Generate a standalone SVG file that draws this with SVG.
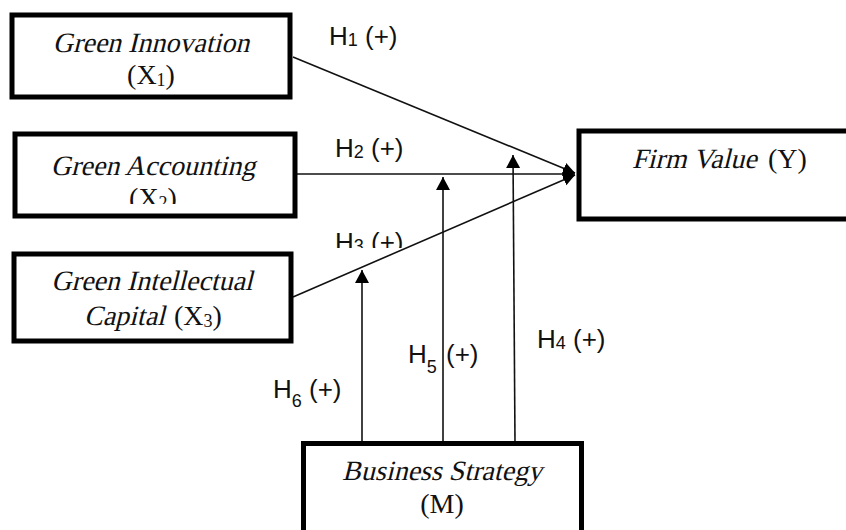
<svg xmlns="http://www.w3.org/2000/svg" width="846" height="530" viewBox="0 0 846 530">
<style>
.box{fill:#fff;stroke:#000;stroke-width:5}
.t{font-family:"Liberation Serif","Times New Roman",serif;font-size:28px;fill:#111;text-anchor:middle}
.st{text-anchor:start}
.s{font-size:18px}
.h{font-family:"Liberation Sans",Arial,sans-serif;font-size:26px;fill:#111}
.hs{font-size:18px}
.ln{stroke:#111;stroke-width:1.6;fill:none}
</style>
<defs>
<marker id="up" markerUnits="userSpaceOnUse" markerWidth="14" markerHeight="14" viewBox="0 0 14 14" refX="13" refY="7" orient="auto">
<path d="M0,0 L13,7 L0,14 Z" fill="#000"/>
</marker>
<marker id="tip" markerUnits="userSpaceOnUse" markerWidth="12" markerHeight="14" viewBox="0 0 12 14" refX="12" refY="7" orient="auto">
<path d="M0,1 L12,7 L0,13 Z" fill="#000"/>
</marker>
<clipPath id="c2"><rect x="0" y="0" width="846" height="204"/></clipPath>
<clipPath id="c3"><rect x="0" y="0" width="846" height="248"/></clipPath>
</defs>

<g id="connectors">
<line class="ln" x1="293" y1="57" x2="575" y2="173" marker-end="url(#tip)"/>
<line class="ln" x1="297" y1="174" x2="575" y2="174" marker-end="url(#tip)"/>
<line class="ln" x1="293" y1="297" x2="575" y2="175" marker-end="url(#tip)"/>
<line class="ln" x1="362" y1="442" x2="362" y2="270" marker-end="url(#up)"/>
<line class="ln" x1="443" y1="442" x2="443" y2="177" marker-end="url(#up)"/>
<line class="ln" x1="515" y1="442" x2="513" y2="155" marker-end="url(#up)"/>
</g>

<g id="labels">
<text class="h" x="329" y="45">H<tspan class="hs" dy="1">1</tspan><tspan dy="-1"> (+)</tspan></text>
<text class="h" x="335" y="157">H<tspan class="hs" dy="1">2</tspan><tspan dy="-1"> (+)</tspan></text>
<g clip-path="url(#c3)"><text class="h" x="335" y="251">H<tspan class="hs" dy="1">3</tspan><tspan dy="-1"> (+)</tspan></text></g>
<text class="h" x="537" y="348">H<tspan class="hs" dy="1">4</tspan><tspan dy="-1"> (+)</tspan></text>
<text class="h" x="408" y="363">H<tspan class="hs" dy="10">5</tspan><tspan dy="-10" x="446">(+)</tspan></text>
<text class="h" x="273" y="398">H<tspan class="hs" dy="9">6</tspan><tspan dy="-9"> (+)</tspan></text>
</g>

<g id="x1">
<rect class="box" x="12" y="15" width="278" height="82"/>
<text class="t" transform="translate(151,52) skewX(-14)">Green Innovation</text>
<text class="t" x="151" y="84">(X<tspan class="s" dy="2">1</tspan><tspan dy="-2">)</tspan></text>
</g>

<g id="x2">
<rect class="box" x="15" y="134" width="280" height="82"/>
<text class="t" transform="translate(153,175) skewX(-14)">Green Accounting</text>
<g clip-path="url(#c2)"><text class="t" x="153" y="207">(X<tspan class="s" dy="2">2</tspan><tspan dy="-2">)</tspan></text></g>
</g>

<g id="x3">
<rect class="box" x="14" y="254" width="277" height="87"/>
<text class="t" transform="translate(152,290) skewX(-14)">Green Intellectual</text>
<text class="t st" transform="translate(84,325) skewX(-14)">Capital</text>
<text class="t st" x="174" y="325">(X<tspan class="s" dy="2">3</tspan><tspan dy="-2">)</tspan></text>
</g>

<g id="y">
<rect class="box" x="579" y="131" width="300" height="88"/>
<text class="t st" transform="translate(632,168) skewX(-14)">Firm Value</text>
<text class="t st" x="768" y="168">(Y)</text>
</g>

<g id="m">
<rect class="box" x="303.5" y="443.5" width="278" height="120"/>
<text class="t" transform="translate(442,480) skewX(-14)">Business Strategy</text>
<text class="t" x="442" y="513">(M)</text>
</g>
</svg>
